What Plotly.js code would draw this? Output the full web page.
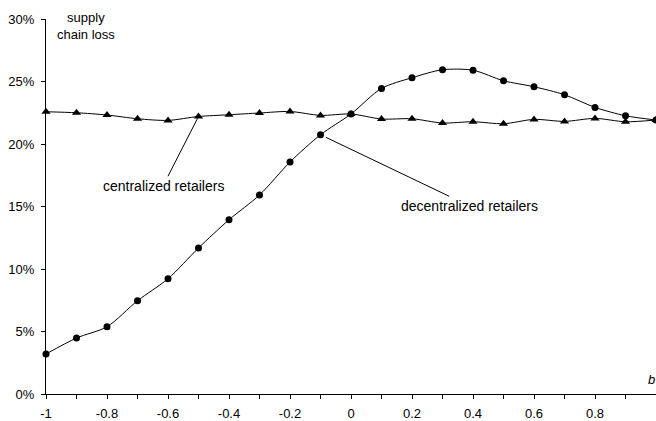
<!DOCTYPE html>
<html>
<head>
<meta charset="utf-8">
<script src="https://cdn.plot.ly/plotly-3.0.1.min.js"></script>
<style>html,body{margin:0;padding:0;background:#fff}#chart{width:656px;height:421px}</style>
</head>
<body>
<div id="chart"></div>
<script>
var bValues = [-1, -0.9, -0.8, -0.7, -0.6, -0.5, -0.4, -0.3, -0.2, -0.1, 0, 0.1, 0.2, 0.3, 0.4, 0.5, 0.6, 0.7, 0.8, 0.9, 1];
var decentralizedLoss = [3.2, 4.48, 5.38, 7.46, 9.22, 11.68, 13.94, 15.92, 18.56, 20.74, 22.4, 24.45, 25.3, 25.94, 25.9, 25.06, 24.58, 23.94, 22.93, 22.26, 21.92];
var centralizedLoss = [22.58, 22.5, 22.32, 22.02, 21.89, 22.2, 22.34, 22.48, 22.6, 22.29, 22.4, 22.0, 22.02, 21.68, 21.78, 21.62, 21.97, 21.81, 22.05, 21.78, 21.92];
var xTickVals = [-1, -0.9, -0.8, -0.7, -0.6, -0.5, -0.4, -0.3, -0.2, -0.1, 0, 0.1, 0.2, 0.3, 0.4, 0.5, 0.6, 0.7, 0.8, 0.9, 1];
var xTickText = ['-1', '', '-0.8', '', '-0.6', '', '-0.4', '', '-0.2', '', '0', '', '0.2', '', '0.4', '', '0.6', '', '0.8', '', '1'];
var yTickVals = [0, 5, 10, 15, 20, 25, 30];
var yTickText = ['0%', '5%', '10%', '15%', '20%', '25%', '30%'];

var font = 'Arial, "Liberation Sans", sans-serif';
var traces = [
  {x: bValues, y: centralizedLoss, type: 'scatter', mode: 'lines+markers', name: 'centralized retailers',
   line: {color: '#000', width: 1, shape: 'spline', smoothing: 0.8},
   marker: {symbol: 'triangle-up', size: 8, color: '#000'}, cliponaxis: false},
  {x: bValues, y: decentralizedLoss, type: 'scatter', mode: 'lines+markers', name: 'decentralized retailers',
   line: {color: '#000', width: 1, shape: 'spline', smoothing: 0.8},
   marker: {symbol: 'circle', size: 7, color: '#000'}, cliponaxis: false}
];
var layout = {
  width: 656, height: 421,
  margin: {l: 46, r: 0, t: 19, b: 27},
  paper_bgcolor: '#fff', plot_bgcolor: '#fff',
  showlegend: false,
  font: {family: font, size: 13, color: '#000'},
  xaxis: {range: [-1, 1], tickmode: 'array', tickvals: xTickVals, ticktext: xTickText,
    ticks: 'outside', ticklen: 4, tickcolor: '#000', showgrid: false, zeroline: false,
    showline: true, linecolor: '#000', linewidth: 1, tickfont: {size: 13}, ticklabelstandoff: 3},
  yaxis: {range: [0, 30], tickmode: 'array', tickvals: yTickVals, ticktext: yTickText,
    ticks: 'outside', ticklen: 4, tickcolor: '#000', showgrid: false, zeroline: false,
    showline: true, linecolor: '#000', linewidth: 1, tickfont: {size: 13}, ticklabelstandoff: 4},
  annotations: [
    {x: -0.5, y: 22.2, xref: 'x', yref: 'y', ax: -0.616, ay: 16.66, axref: 'x', ayref: 'y',
     text: 'centralized retailers', showarrow: true, arrowhead: 0, arrowwidth: 1, arrowcolor: '#000',
     standoff: 2, font: {size: 14}},
    {x: -0.1, y: 20.74, xref: 'x', yref: 'y', ax: 0.387, ay: 15.06, axref: 'x', ayref: 'y',
     text: 'decentralized retailers', showarrow: true, arrowhead: 0, arrowwidth: 1, arrowcolor: '#000',
     standoff: 6, font: {size: 14}},
    {x: 0.0656, y: 0.981, xref: 'paper', yref: 'paper', xanchor: 'center', yanchor: 'middle',
     text: 'supply<br>chain loss', showarrow: false, font: {size: 13}},
    {x: 0.993, y: 0.038, xref: 'paper', yref: 'paper', xanchor: 'center', yanchor: 'middle',
     text: '<i>b</i>', showarrow: false, font: {size: 13}}
  ]
};
Plotly.newPlot('chart', traces, layout, {displayModeBar: false, staticPlot: true});
</script>
</body>
</html>
